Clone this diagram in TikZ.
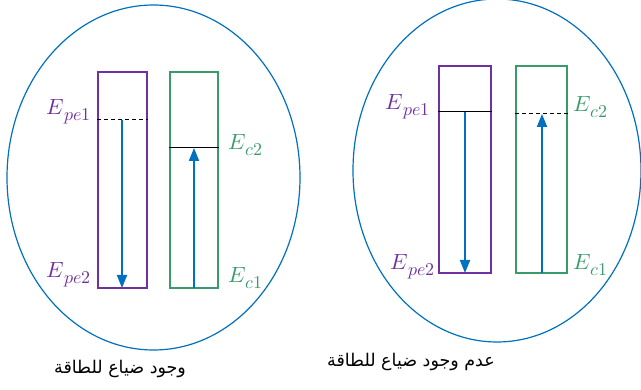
\documentclass[tikz,border=0pt]{standalone}
\usepackage{fontspec}
\usepackage{unicode-math}
\setmathfont{Latin Modern Math}
\usetikzlibrary{arrows.meta}
\TeXXeTstate=1
\newfontfamily\arabicfont[Script=Arabic]{DejaVu Sans}
\newcommand\elab[1]{$E$\raisebox{-5.5pt}{\fontsize{18}{20}\selectfont$#1$}}
\definecolor{ovblue}{HTML}{0070C0}
\definecolor{lvpurple}{HTML}{7030A0}
\definecolor{lvgreen}{HTML}{3A9B6A}
\begin{document}
\begin{tikzpicture}[x=1pt,y=-1pt,
  oval/.style={draw=ovblue,line width=1.2pt},
  pbar/.style={draw=lvpurple,line width=1.8pt},
  gbar/.style={draw=lvgreen,line width=1.8pt},
  lvl/.style={draw=black,line width=1pt},
  dlvl/.style={draw=black,line width=1pt,dash pattern=on 4pt off 3pt},
  flow/.style={draw=ovblue,line width=1.9pt,-{Triangle[width=10pt,length=13pt]}},
  plab/.style={text=lvpurple,font=\fontsize{22}{24}\selectfont,inner sep=0pt},
  glab/.style={text=lvgreen,font=\fontsize{22}{24}\selectfont,inner sep=0pt},
  captext/.style={font=\arabicfont\fontsize{17.5}{20}\selectfont,inner sep=0pt}]
\useasboundingbox (0,0) rectangle (641,390);
% left panel
\draw[oval] (153.5,177.5) ellipse [x radius=146.5, y radius=172.5];
\node[pbar,draw,rectangle,minimum width=49pt,minimum height=216pt,inner sep=0pt] (pL) at (122.5,180) {};
\node[gbar,draw,rectangle,minimum width=48pt,minimum height=216pt,inner sep=0pt] (gL) at (194,180) {};
\coordinate (pL1) at (122,120);
\coordinate (pL2) at (122,288);
\coordinate (gL1) at (194,288);
\coordinate (gL2) at (194,148);
\draw[dlvl] (pL.west |- pL1) -- (pL.east |- pL1);
\draw[lvl] (gL.west |- gL2) -- (gL.east |- gL2);
\draw[flow] (pL1) -- (pL2);
\draw[flow] (gL1) -- (gL2);
\node[plab,anchor=base east] (ep1L) at (91,115) {\elab{pe1}};
\node[plab,anchor=base east] (ep2L) at (91,278) {\elab{pe2}};
\node[glab,anchor=base west] (ec2L) at (228,150) {\elab{c2}};
\node[glab,anchor=base west] (ec1L) at (228,283) {\elab{c1}};
\node[captext] (capL) at (120,369) {\beginR وجود ضياع للطاقة\endR};
% right panel
\draw[oval] (497,170.5) ellipse [x radius=144, y radius=171.5];
\node[pbar,draw,rectangle,minimum width=52pt,minimum height=207pt,inner sep=0pt] (pR) at (465,169.5) {};
\node[gbar,draw,rectangle,minimum width=51pt,minimum height=207pt,inner sep=0pt] (gR) at (541.5,169.5) {};
\coordinate (pR1) at (465,112);
\coordinate (pR2) at (465,273);
\coordinate (gR1) at (542,273);
\coordinate (gR2) at (542,114);
\draw[lvl] (pR.west |- pR1) -- (pR.east |- pR1);
\draw[dlvl] (gR.west |- gR2) -- (gR.east |- gR2);
\draw[flow] (pR1) -- (pR2);
\draw[flow] (gR1) -- (gR2);
\node[plab,anchor=base east] (ep1R) at (430,110) {\elab{pe1}};
\node[plab,anchor=base east] (ep2R) at (435,270) {\elab{pe2}};
\node[glab,anchor=base west] (ec2R) at (573,112) {\elab{c2}};
\node[glab,anchor=base west] (ec1R) at (573,270) {\elab{c1}};
\node[captext] (capR) at (411,362) {\beginR عدم وجود ضياع للطاقة\endR};
\end{tikzpicture}
\end{document}
